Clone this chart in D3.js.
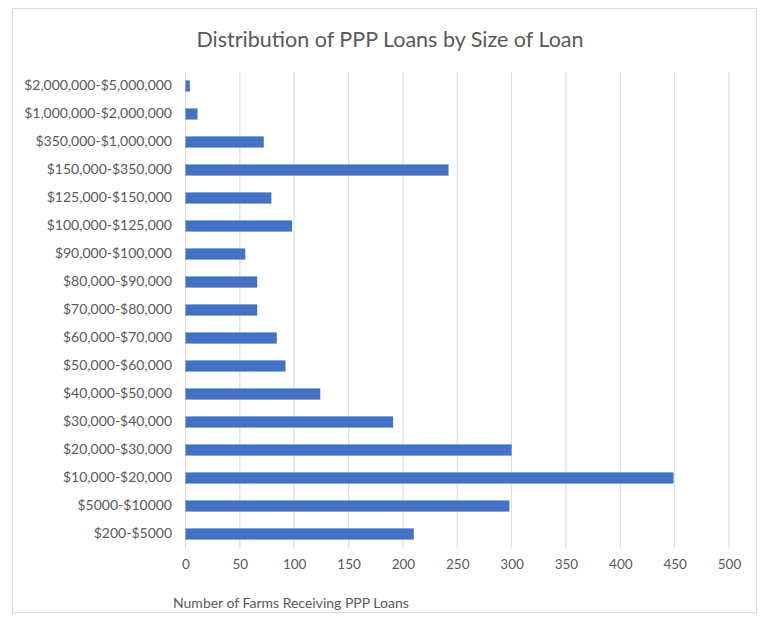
<!DOCTYPE html>
<html>
<head>
<meta charset="utf-8">
<script src="https://cdn.jsdelivr.net/npm/d3@7"></script>
<style>
  html, body { margin: 0; padding: 0; background: #fff; }
  svg { display: block; }
  text { font-family: Lato, "Open Sans", sans-serif; fill: #595959; }
</style>
</head>
<body>
<svg id="chart" width="765" height="620"></svg>
<script>
const title = "Distribution of PPP Loans by Size of Loan";
const xAxisTitle = "Number of Farms Receiving PPP Loans";
const categories = [
  "$2,000,000-$5,000,000",
  "$1,000,000-$2,000,000",
  "$350,000-$1,000,000",
  "$150,000-$350,000",
  "$125,000-$150,000",
  "$100,000-$125,000",
  "$90,000-$100,000",
  "$80,000-$90,000",
  "$70,000-$80,000",
  "$60,000-$70,000",
  "$50,000-$60,000",
  "$40,000-$50,000",
  "$30,000-$40,000",
  "$20,000-$30,000",
  "$10,000-$20,000",
  "$5000-$10000",
  "$200-$5000"
];
const farms = [4, 11, 72, 242, 79, 98, 55, 66, 66, 84, 92, 124, 191, 300, 449, 298, 210];
const xTicks = [0, 50, 100, 150, 200, 250, 300, 350, 400, 450, 500];

const svg = d3.select("#chart");

// chart frame
svg.append("rect")
  .attr("x", 12.5).attr("y", 8.5)
  .attr("width", 744).attr("height", 604)
  .attr("fill", "#fff").attr("stroke", "#d9d9d9").attr("stroke-width", 1);

const x = d3.scaleLinear().domain([0, 500]).range([185.5, 729]);
const y = d3.scaleBand().domain(categories).range([72, 548]).paddingInner(0.6).paddingOuter(0.3);

// gridlines
svg.append("g").selectAll("line").data(xTicks.slice(1)).join("line")
  .attr("x1", d => x(d)).attr("x2", d => x(d))
  .attr("y1", 72).attr("y2", 548)
  .attr("stroke", "#d9d9d9").attr("stroke-width", 1);

// vertical axis line
svg.append("line")
  .attr("x1", x(0)).attr("x2", x(0)).attr("y1", 72).attr("y2", 548)
  .attr("stroke", "#d9d9d9").attr("stroke-width", 1);

// bars
svg.append("g").selectAll("rect").data(categories).join("rect")
  .attr("x", x(0))
  .attr("y", d => y(d))
  .attr("width", (d, i) => x(farms[i]) - x(0))
  .attr("height", y.bandwidth())
  .attr("fill", "#4472C4");

// y labels
const yAxis = d3.axisLeft(y).tickSize(0).tickPadding(0);
const gy = svg.append("g").attr("transform", `translate(172,0)`).call(yAxis);
gy.select(".domain").remove();
gy.selectAll("text").attr("font-size", 14).style("font-family", "Lato, 'Open Sans', sans-serif").attr("fill", "#6b6b6b");

// x axis labels
const xAxis = d3.axisBottom(x).tickValues(xTicks).tickSize(0).tickPadding(0);
const gx = svg.append("g").attr("transform", `translate(0,559)`).call(xAxis);
gx.select(".domain").remove();
gx.selectAll("text").attr("font-size", 13.5).style("font-family", "Lato, 'Open Sans', sans-serif").attr("fill", "#6b6b6b");

// title
svg.append("text")
  .attr("x", 390).attr("y", 47)
  .attr("text-anchor", "middle")
  .attr("font-size", 21.5)
  .text(title);

// axis title
svg.append("text")
  .attr("x", 173).attr("y", 608)
  .attr("font-size", 14)
  .attr("fill", "#6b6b6b")
  .text(xAxisTitle);
</script>
</body>
</html>
